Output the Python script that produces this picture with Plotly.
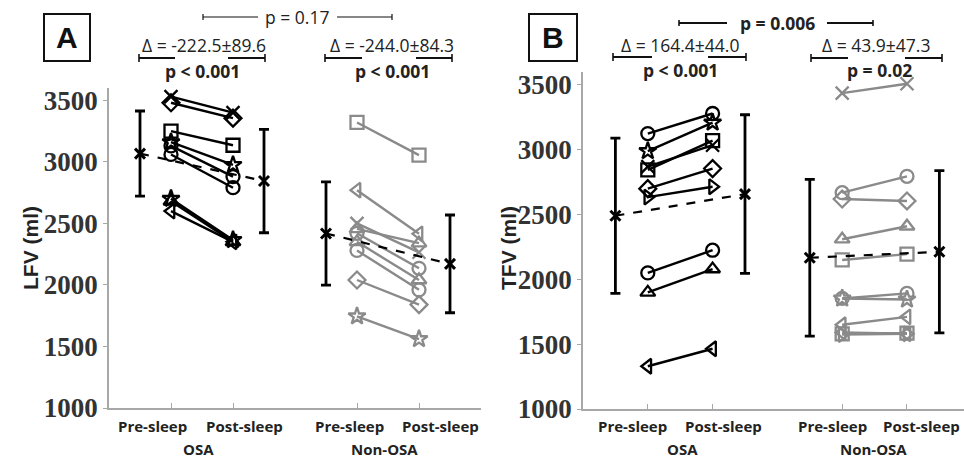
import plotly.graph_objects as go

W, H = 964, 460

# ---------------- data ----------------
x_osa = [1, 2]
x_non = [4, 5]
x_mean_osa = [0.5, 2.5]
x_mean_non = [3.5, 5.5]
xtick_vals = [1, 2, 4, 5]
ytick_vals = [1000, 1500, 2000, 2500, 3000, 3500]

# Panel A : LFV
a_osa_symbols = ["x-thin-open", "diamond-open", "square-open", "star-open", "circle-open",
                 "circle-open", "star-open", "triangle-up-open", "triangle-left-open"]
a_osa_pre = [3530, 3480, 3250, 3160, 3130, 3060, 2700, 2680, 2600]
a_osa_post = [3400, 3355, 3135, 2975, 2880, 2790, 2365, 2350, 2350]

a_non_symbols = ["square-open", "triangle-left-open", "x-thin-open", "triangle-up-open", "circle-open",
                 "triangle-up-open", "circle-open", "diamond-open", "star-open"]
a_non_pre = [3320, 2770, 2500, 2455, 2420, 2350, 2280, 2040, 1745]
a_non_post = [3055, 2415, 2265, 2340, 2135, 2040, 1960, 1840, 1560]

a_osa_mean = [3067, 2844]
a_osa_sd = [346, 420]
a_non_mean = [2418, 2171]
a_non_sd = [420, 397]

# Panel B : TFV
b_osa_symbols = ["circle-open", "star-open", "square-open", "x-thin-open", "diamond-open",
                 "triangle-right-open", "circle-open", "triangle-up-open", "triangle-left-open"]
b_osa_pre = [3125, 2990, 2845, 2870, 2700, 2635, 2050, 1900, 1330]
b_osa_post = [3280, 3210, 3070, 3035, 2855, 2715, 2225, 2080, 1465]

b_non_symbols = ["x-thin-open", "circle-open", "diamond-open", "triangle-up-open", "square-open",
                 "circle-open", "star-open", "triangle-left-open", "triangle-left-open",
                 "square-open", "triangle-right-open"]
b_non_pre = [3437, 2669, 2620, 2310, 2150, 1853, 1853, 1650, 1590, 1580, 1575]
b_non_post = [3509, 2795, 2605, 2410, 2195, 1892, 1845, 1711, 1580, 1585, 1580]

b_osa_mean = [2491, 2658]
b_osa_sd = [599, 612]
b_non_mean = [2167, 2213]
b_non_sd = [605, 626]

x_labels = ["Pre-sleep", "Post-sleep", "Pre-sleep", "Post-sleep"]
group_labels = ["OSA", "Non-OSA"]

BLACK = "#000000"
GRAY = "#8a8a8a"

fig = go.Figure()


def add_subjects(xs, pre, post, syms, color, xa, ya):
    for p0, p1, s in zip(pre, post, syms):
        fig.add_trace(go.Scatter(
            x=xs, y=[p0, p1], mode="lines+markers", xaxis=xa, yaxis=ya,
            line=dict(color=color, width=2.4),
            marker=dict(symbol=s, size=13, color=color, line=dict(color=color, width=2.3)),
            showlegend=False, hoverinfo="skip"))


def add_means(xs, means, sds, xa, ya):
    fig.add_trace(go.Scatter(
        x=xs, y=means, mode="lines+markers", xaxis=xa, yaxis=ya,
        line=dict(color=BLACK, width=2.2, dash="dash"),
        marker=dict(symbol="x-thin-open", size=10, color=BLACK, line=dict(color=BLACK, width=3)),
        error_y=dict(type="data", array=sds, visible=True, color=BLACK, thickness=2.8, width=5),
        showlegend=False, hoverinfo="skip"))


add_subjects(x_osa, a_osa_pre, a_osa_post, a_osa_symbols, BLACK, "x", "y")
add_subjects(x_non, a_non_pre, a_non_post, a_non_symbols, GRAY, "x", "y")
add_means(x_mean_osa, a_osa_mean, a_osa_sd, "x", "y")
add_means(x_mean_non, a_non_mean, a_non_sd, "x", "y")

add_subjects(x_osa, b_osa_pre, b_osa_post, b_osa_symbols, BLACK, "x2", "y2")
add_subjects(x_non, b_non_pre, b_non_post, b_non_symbols, GRAY, "x2", "y2")
add_means(x_mean_osa, b_osa_mean, b_osa_sd, "x2", "y2")
add_means(x_mean_non, b_non_mean, b_non_sd, "x2", "y2")


def px(x):
    return x / W


def py(y):
    return 1 - y / H


axis_common = dict(showline=True, linecolor="#a8a8a8", linewidth=1.5, showgrid=False,
                   zeroline=False, mirror=False, automargin=False)
xcommon = dict(axis_common, tickvals=xtick_vals, ticktext=["", "", "", ""], ticks="inside",
               ticklen=5, tickcolor="#a8a8a8")
ycommon = dict(axis_common, range=[1000, 3600], tickvals=ytick_vals, ticks="outside", ticklen=4,
               tickcolor="#a8a8a8",
               tickfont=dict(family="Liberation Serif", size=27, color="#333333", weight="bold"))

fig.update_layout(
    width=W, height=H, margin=dict(l=0, r=0, t=0, b=0, pad=0), autosize=False,
    plot_bgcolor="white", paper_bgcolor="white",
    xaxis=dict(xcommon, domain=[px(109), px(481)], range=[0, 6], anchor="y"),
    yaxis=dict(ycommon, domain=[py(408), py(88)], anchor="x"),
    xaxis2=dict(xcommon, domain=[px(583), 1.0], range=[0, 5.88], anchor="y2"),
    yaxis2=dict(ycommon, domain=[py(409), py(72)], anchor="x2"),
)

shapes = []
annotations = []
TXT = "#222222"
SANS = "Open Sans"


def text(x, y, s, size=17, bold=False, family=SANS, angle=0, color=TXT):
    annotations.append(dict(x=px(x), y=py(y), xref="paper", yref="paper", text=s,
                            showarrow=False, xanchor="center", yanchor="middle",
                            textangle=angle,
                            font=dict(family=family, size=size, color=color,
                                      weight="bold" if bold else "normal")))


def hline(x0, x1, y, w=1.4):
    shapes.append(dict(type="line", xref="paper", yref="paper", x0=px(x0), x1=px(x1),
                       y0=py(y), y1=py(y), line=dict(color="#111111", width=w)))


def endtick(x, y, w=1.6, h=4):
    shapes.append(dict(type="line", xref="paper", yref="paper", x0=px(x), x1=px(x),
                       y0=py(y - h), y1=py(y + h), line=dict(color="#111111", width=w)))


def bracket(l0, l1, r0, r1, y):
    hline(l0, l1, y, w=2.2)
    hline(r0, r1, y, w=2.2)
    endtick(l0, y)
    endtick(r1, y)


# panel boxes
for (x0, x1, lab) in [(44, 90, "A"), (529, 577, "B")]:
    shapes.append(dict(type="rect", xref="paper", yref="paper", x0=px(x0), x1=px(x1),
                       y0=py(61), y1=py(14), line=dict(color="#111111", width=2)))
    text((x0 + x1) / 2, 38, lab, size=30, bold=True, family="Liberation Sans", color="#111111")

# Panel A top annotations
hline(203, 258, 17, w=1.2)
hline(337, 392, 17, w=1.2)
endtick(203, 17, w=1.2, h=3)
endtick(392, 17, w=1.2, h=3)
text(297, 17, "p = 0.17", size=17.5)
text(204, 45, "Δ = -222.5±89.6", size=17.5)
bracket(139, 175, 228, 265, 58)
text(202, 71, "p < 0.001", size=17.5, bold=True)
text(392, 45, "Δ = -244.0±84.3", size=17.5)
bracket(325, 362, 416, 452, 58)
text(392, 71, "p < 0.001", size=17.5, bold=True)

# Panel B top annotations
hline(679, 727, 23, w=2.2)
hline(827, 873, 23, w=2.2)
endtick(679, 23, w=1.6, h=3)
endtick(873, 23, w=1.6, h=3)
text(777, 23, "p = 0.006", size=17.5, bold=True)
text(680, 45, "Δ = 164.4±44.0", size=17.5)
bracket(613, 652, 708, 746, 57)
text(680, 70, "p < 0.001", size=17.5, bold=True)
text(876, 45, "Δ = 43.9±47.3", size=17.5)
bracket(811, 848, 905, 942, 58)
text(879, 70, "p = 0.02", size=17.5, bold=True)

# y-axis titles
text(30, 248, "LFV (ml)", size=21, bold=True, family="Liberation Sans", angle=-90)
text(508, 248, "TFV (ml)", size=21, bold=True, family="Liberation Sans", angle=-90)

# x labels
for cx, lab in zip([152, 244, 349, 440], x_labels):
    text(cx, 426, lab, size=15, bold=True)
for cx, lab in zip([198, 384], group_labels):
    text(cx, 449, lab, size=15, bold=True)
for cx, lab in zip([632, 723, 832, 921], x_labels):
    text(cx, 426, lab, size=15, bold=True)
for cx, lab in zip([682, 873], group_labels):
    text(cx, 449, lab, size=15, bold=True)

fig.update_layout(shapes=shapes, annotations=annotations)
fig.write_html(
    "out.html",
    config={"displayModeBar": False},
    post_script="document.body.style.margin='0';document.body.style.padding='0';"
                "document.body.style.overflow='hidden';",
)
